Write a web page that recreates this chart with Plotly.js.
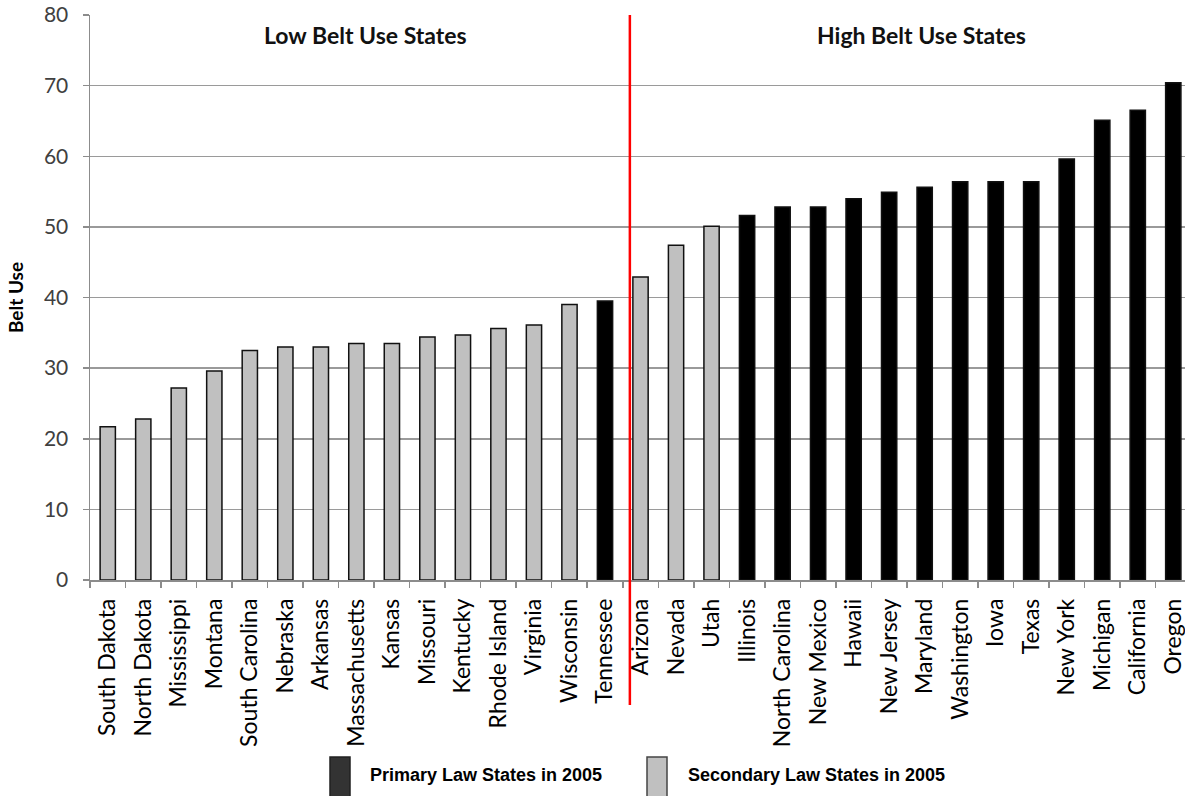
<!DOCTYPE html>
<html>
<head>
<meta charset="utf-8">
<script src="https://cdn.plot.ly/plotly-3.0.1.min.js"></script>
<style>
  html, body { margin: 0; padding: 0; background: #fff; }
  #chart { width: 1185px; height: 796px; }
</style>
</head>
<body>
<div id="chart"></div>
<script>
const states = ["South Dakota","North Dakota","Mississippi","Montana","South Carolina","Nebraska","Arkansas","Massachusetts","Kansas","Missouri","Kentucky","Rhode Island","Virginia","Wisconsin","Tennessee","Arizona","Nevada","Utah","Illinois","North Carolina","New Mexico","Hawaii","New Jersey","Maryland","Washington","Iowa","Texas","New York","Michigan","California","Oregon"];
const beltUse = [21.7,22.8,27.2,29.6,32.5,33.0,33.0,33.5,33.5,34.4,34.7,35.6,36.1,39.0,39.5,42.9,47.4,50.1,51.6,52.8,52.8,54.0,54.9,55.6,56.4,56.4,56.4,59.6,65.1,66.5,70.4];
const primaryLaw = [false,false,false,false,false,false,false,false,false,false,false,false,false,false,true,false,false,false,true,true,true,true,true,true,true,true,true,true,true,true,true];
const groupLabels = ["Low Belt Use States","High Belt Use States"];
const legendLabels = ["Primary Law States in 2005","Secondary Law States in 2005"];
const yTicks = [0,10,20,30,40,50,60,70,80];

const PRIMARY_COLOR = "#000000";
const SECONDARY_COLOR = "#c0c0c0";
const labelFont = "Lato, 'Open Sans', sans-serif";
const legendFont = "'Liberation Sans', Arial, sans-serif";

const trace = {
  type: "bar",
  x: states,
  y: beltUse,
  width: 0.43,
  marker: {
    color: primaryLaw.map(p => p ? PRIMARY_COLOR : SECONDARY_COLOR),
    line: { color: "#111", width: 1.5 }
  },
  showlegend: false,
  hoverinfo: "x+y"
};

const L = 90, R = 1185, T = 15, B = 580;
const px2x = p => (p - L) / (R - L);
const py2y = p => (B - p) / (B - T);

const layout = {
  width: 1185,
  height: 796,
  margin: { l: 90, r: 0, t: 15, b: 216 },
  paper_bgcolor: "#fff",
  plot_bgcolor: "#fff",
  xaxis: {
    type: "category",
    range: [-0.5, 30.33],
    tickangle: -90,
    tickfont: { family: labelFont, size: 23, color: "#000" },
    ticklabelstandoff: 8,
    showline: true,
    linecolor: "#8c8c8c",
    linewidth: 1.5,
    ticks: "outside",
    tickson: "boundaries",
    ticklen: 6,
    tickcolor: "#8c8c8c",
    tickwidth: 1.5,
    showgrid: false,
    fixedrange: true
  },
  yaxis: {
    range: [0, 80],
    tickvals: yTicks,
    ticktext: yTicks.map(String),
    tickfont: { family: labelFont, size: 21, color: "#404040" },
    ticklabelstandoff: 10,
    showline: true,
    linecolor: "#8c8c8c",
    linewidth: 1.5,
    ticks: "outside",
    ticklen: 6,
    tickcolor: "#8c8c8c",
    tickwidth: 1.5,
    showgrid: true,
    gridcolor: "#9a9a9a",
    gridwidth: 1.5,
    zeroline: false,
    title: { text: "<b>Belt Use</b>", font: { family: labelFont, size: 19, color: "#000" }, standoff: 15 },
    fixedrange: true
  },
  shapes: [
    { type: "line", xref: "x", yref: "paper", x0: 14.7, x1: 14.7, y0: py2y(705), y1: 1, line: { color: "#ff0000", width: 2.5 } },
    { type: "rect", xref: "paper", yref: "paper", x0: px2x(330), x1: px2x(350), y0: py2y(800), y1: py2y(757), fillcolor: "#333333", line: { color: "#222", width: 1.5 } },
    { type: "rect", xref: "paper", yref: "paper", x0: px2x(647), x1: px2x(667), y0: py2y(800), y1: py2y(757), fillcolor: "#c0c0c0", line: { color: "#444", width: 1.5 } }
  ],
  annotations: [
    { xref: "paper", yref: "paper", x: px2x(365), y: py2y(35), text: "<b>" + groupLabels[0] + "</b>", showarrow: false, xanchor: "center", yanchor: "middle", font: { family: labelFont, size: 23, color: "#111" } },
    { xref: "paper", yref: "paper", x: px2x(921), y: py2y(35), text: "<b>" + groupLabels[1] + "</b>", showarrow: false, xanchor: "center", yanchor: "middle", font: { family: labelFont, size: 23, color: "#111" } },
    { xref: "paper", yref: "paper", x: px2x(368), y: py2y(775), text: "<b>" + legendLabels[0] + "</b>", showarrow: false, xanchor: "left", yanchor: "middle", font: { family: legendFont, size: 18, color: "#000" } },
    { xref: "paper", yref: "paper", x: px2x(686), y: py2y(775), text: "<b>" + legendLabels[1] + "</b>", showarrow: false, xanchor: "left", yanchor: "middle", font: { family: legendFont, size: 18, color: "#000" } }
  ]
};

Plotly.newPlot("chart", [trace], layout, { displayModeBar: false, staticPlot: true });
</script>
</body>
</html>
